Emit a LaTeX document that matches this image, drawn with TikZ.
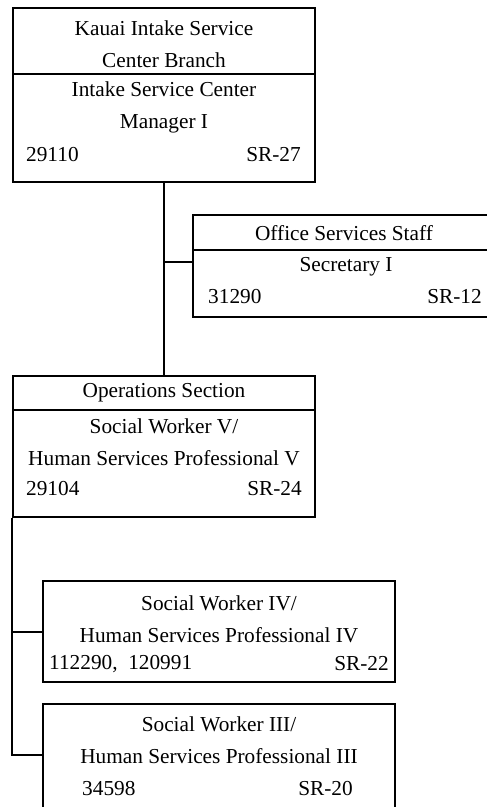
\documentclass[tikz,border=0pt]{standalone}
\usepackage{fontspec}
\setmainfont{Liberation Serif}
\usetikzlibrary{positioning, calc}

\begin{document}
\begin{tikzpicture}[
  x=1pt, y=-1pt,
  orgbox/.style={rectangle, draw, line width=2pt, inner sep=0pt, minimum width=302pt},
  txt/.style={inner sep=0pt, align=center, font=\fontsize{21.3}{32}\selectfont},
  link/.style={line width=2pt}
]
\useasboundingbox[fill=white] (0,0) rectangle (487,807);

% boxes
\node[orgbox, minimum height=66pt] (kauaiHead) at (164,41) {};
\node[orgbox, minimum height=108pt] (kauaiBody) at (164,128) {};
\node[orgbox, minimum width=303pt, minimum height=35pt] (officeHead) at (344.5,232.5) {};
\node[orgbox, minimum width=303pt, minimum height=67pt] (officeBody) at (344.5,283.5) {};
\node[orgbox, minimum height=34pt] (opsHead) at (164,393) {};
\node[orgbox, minimum height=107pt] (opsBody) at (164,463.5) {};
\node[orgbox, minimum width=352pt, minimum height=101pt] (swFour) at (219,631.5) {};
\node[orgbox, minimum width=352pt, minimum height=111pt] (swThree) at (219,759.5) {};

% texts
\node[txt] (kauaiName) at (164,44) {Kauai Intake Service\\Center Branch};
\node[txt] (kauaiJob) at (164,107) {Intake Service Center\\Manager I};
\node[txt, anchor=west] (kauaiNum) at (26,155) {29110};
\node[txt, anchor=east] (kauaiSR) at (301,155) {SR-27};

\node[txt] (officeName) at (344,233) {Office Services Staff};
\node[txt] (officeJob) at (346,267) {Secretary I};
\node[txt, anchor=west] (officeNum) at (208,297) {31290};
\node[txt, anchor=east] (officeSR) at (482,297) {SR-12};

\node[txt] (opsName) at (164,393) {Operations Section};
\node[txt] (opsJob) at (164,442) {Social Worker V/\\Human Services Professional V};
\node[txt, anchor=west] (opsNum) at (26,489) {29104};
\node[txt, anchor=east] (opsSR) at (302,489) {SR-24};

\node[txt] (swFourJob) at (219,619) {Social Worker IV/\\Human Services Professional IV};
\node[txt, anchor=west] (swFourNum) at (49,664) {112290,\ \ 120991};
\node[txt, anchor=east] (swFourSR) at (389,664) {SR-22};

\node[txt] (swThreeJob) at (219,740.5) {Social Worker III/\\Human Services Professional III};
\node[txt, anchor=west] (swThreeNum) at (82,789) {34598};
\node[txt, anchor=east] (swThreeSR) at (353,789) {SR-20};

% connectors
\coordinate (officeTie) at (164,262);
\coordinate (swThreeTie) at (43,755);
\draw[link] (kauaiBody.south) -- (opsHead.north);
\draw[link] (officeTie) -- (officeTie -| officeBody.west);
\draw[link] (opsBody.south west) |- (swThreeTie);
\draw[link] (opsBody.south west |- swFour.west) -- (swFour.west);
\end{tikzpicture}
\end{document}
